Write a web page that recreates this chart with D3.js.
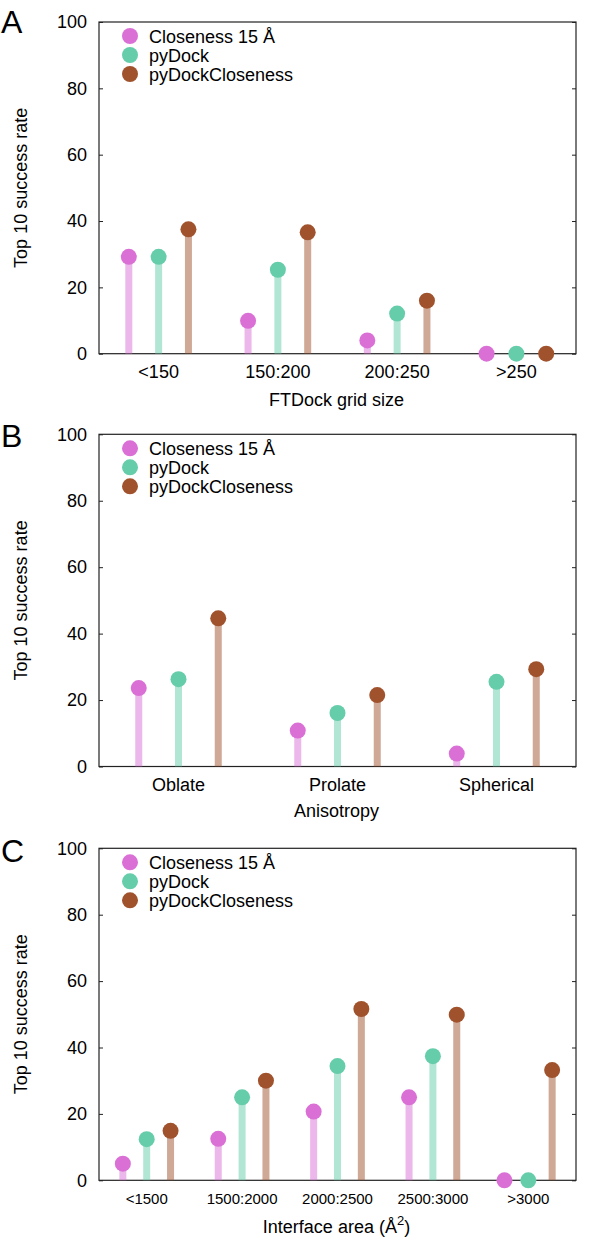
<!DOCTYPE html>
<html>
<head>
<meta charset="utf-8">
<script src="https://cdn.jsdelivr.net/npm/d3@7"></script>
<style>
  html, body { margin: 0; padding: 0; background: #fff; }
  svg { display: block; font-family: "Liberation Sans", Arial, Helvetica, sans-serif; }
</style>
</head>
<body>
<svg id="chart" width="600" height="1260"></svg>
<script>
// ---- Data ----
const seriesNames = ["Closeness 15 Å", "pyDock", "pyDockCloseness"];
const seriesColors = ["#DA70D6", "#66CDAA", "#A0522D"];
const yTicks = [0, 20, 40, 60, 80, 100];

const categoriesA = ["<150", "150:200", "200:250", ">250"];
const closenessA = [29.2, 9.9, 4.0, 0];
const pyDockA = [29.2, 25.3, 12.1, 0];
const pyDockClosenessA = [37.5, 36.6, 16.0, 0];

const categoriesB = ["Oblate", "Prolate", "Spherical"];
const closenessB = [23.6, 10.8, 3.9];
const pyDockB = [26.3, 16.1, 25.5];
const pyDockClosenessB = [44.6, 21.5, 29.3];

const categoriesC = ["<1500", "1500:2000", "2000:2500", "2500:3000", ">3000"];
const closenessC = [5.0, 12.5, 20.7, 25.0, 0];
const pyDockC = [12.4, 25.0, 34.4, 37.4, 0];
const pyDockClosenessC = [14.9, 30.0, 51.6, 49.9, 33.2];

// ---- Layout ----
const svg = d3.select("#chart");
const left = 99, right = 576;

const panels = [
  { letter: "A", letterY: 33, top: 22, bottom: 353.7, cats: categoriesA,
    series: [closenessA, pyDockA, pyDockClosenessA], xTitle: "FTDock grid size",
    tickFont: 18, tickPad: 12, titleOffset: 52 },
  { letter: "B", letterY: 446.7, top: 434.3, bottom: 766.5, cats: categoriesB,
    series: [closenessB, pyDockB, pyDockClosenessB], xTitle: "Anisotropy",
    tickFont: 18, tickPad: 12, titleOffset: 50 },
  { letter: "C", letterY: 861.5, top: 848.3, bottom: 1180.3, cats: categoriesC,
    series: [closenessC, pyDockC, pyDockClosenessC], xTitle: "Interface area (Å",
    sup: true, tickFont: 15, tickPad: 13, titleOffset: 53 }
];

panels.forEach(p => {
  const g = svg.append("g");
  const x = d3.scaleBand().domain(p.cats).range([left, right]).padding(0);
  const bw = x.bandwidth();
  const off = d3.scalePoint().domain(seriesNames).range([-0.25 * bw, 0.25 * bw]);
  const y = d3.scaleLinear().domain([0, 100]).range([p.bottom, p.top]);

  // frame
  g.append("rect")
    .attr("x", left).attr("y", p.top)
    .attr("width", right - left).attr("height", p.bottom - p.top)
    .attr("fill", "none").attr("stroke", "#222").attr("stroke-width", 1.2);

  // y axis left (inward ticks)
  const ya = g.append("g").attr("transform", `translate(${left},0)`)
    .call(d3.axisLeft(y).tickValues(yTicks).tickSize(-4).tickPadding(12));
  ya.select(".domain").remove();
  ya.selectAll("line").attr("stroke", "#222");
  ya.selectAll("text").attr("font-size", 18).attr("fill", "#000")
    .attr("font-family", "Liberation Sans, Arial, sans-serif");

  // y axis right (inward ticks, no labels)
  const yr = g.append("g").attr("transform", `translate(${right},0)`)
    .call(d3.axisRight(y).tickValues(yTicks).tickSize(-4).tickFormat(""));
  yr.select(".domain").remove();
  yr.selectAll("line").attr("stroke", "#222");

  // x axis
  const xa = g.append("g").attr("transform", `translate(0,${p.bottom})`)
    .call(d3.axisBottom(x).tickSize(0).tickPadding(p.tickPad));
  xa.select(".domain").remove();
  xa.selectAll("text").attr("font-size", p.tickFont).attr("fill", "#000")
    .attr("font-family", "Liberation Sans, Arial, sans-serif");

  // stems & points
  seriesNames.forEach((name, si) => {
    const vals = p.series[si];
    const data = p.cats.map((c, i) => ({ c, v: vals[i] }));
    g.selectAll(null).data(data.filter(d => d.v > 0)).enter().append("line")
      .attr("x1", d => x(d.c) + bw / 2 + off(name))
      .attr("x2", d => x(d.c) + bw / 2 + off(name))
      .attr("y1", y(0)).attr("y2", d => y(d.v))
      .attr("stroke", seriesColors[si]).attr("stroke-opacity", 0.5)
      .attr("stroke-width", 7);
  });
  seriesNames.forEach((name, si) => {
    const vals = p.series[si];
    const data = p.cats.map((c, i) => ({ c, v: vals[i] }));
    g.selectAll(null).data(data).enter().append("circle")
      .attr("cx", d => x(d.c) + bw / 2 + off(name))
      .attr("cy", d => y(d.v))
      .attr("r", 8)
      .attr("fill", seriesColors[si]);
  });

  // legend
  seriesNames.forEach((name, si) => {
    const cy = p.top + 14 + si * 19;
    g.append("circle").attr("cx", 130).attr("cy", cy).attr("r", 8)
      .attr("fill", seriesColors[si]);
    g.append("text").attr("x", 149).attr("y", cy + 6.5)
      .attr("font-size", 18).attr("fill", "#000").text(name);
  });

  // y title
  g.append("text")
    .attr("transform", `translate(27,${(p.top + p.bottom) / 2}) rotate(-90)`)
    .attr("text-anchor", "middle").attr("font-size", 18).attr("fill", "#000")
    .text("Top 10 success rate");

  // x title
  const xt = g.append("text")
    .attr("x", (left + right) / 2 - 1).attr("y", p.bottom + p.titleOffset)
    .attr("text-anchor", "middle").attr("font-size", 18).attr("fill", "#000")
    .text(p.xTitle);
  if (p.sup) {
    xt.append("tspan").attr("font-size", 13).attr("dy", -8).text("2");
    xt.append("tspan").attr("dy", 8).text(")");
  }

  // panel letter
  g.append("text").attr("x", 1).attr("y", p.letterY)
    .attr("font-size", 32).attr("fill", "#000").text(p.letter);
});
</script>
</body>
</html>
